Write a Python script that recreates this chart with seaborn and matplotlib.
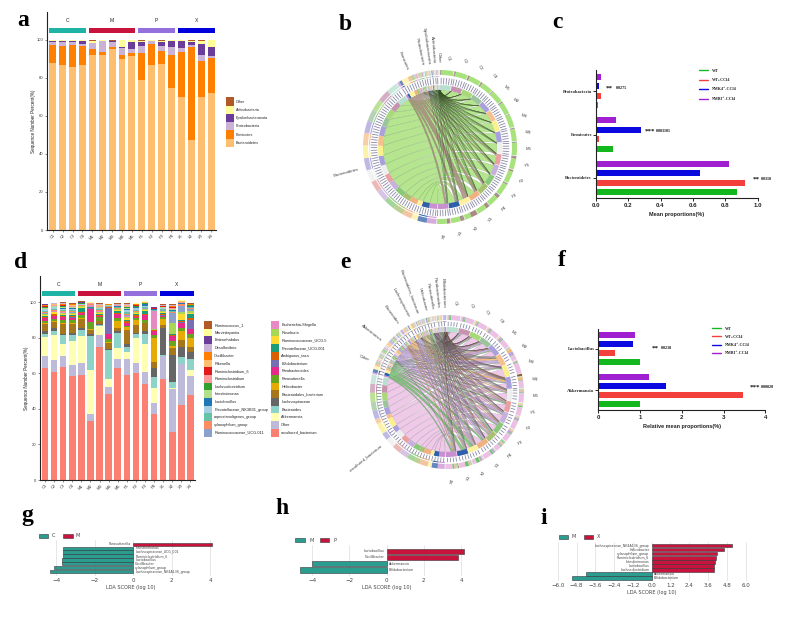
import numpy as np
import pandas as pd
import seaborn as sns
import matplotlib
matplotlib.use("Agg")
import matplotlib.pyplot as plt
from matplotlib.colors import to_rgba
from matplotlib.patches import Wedge, PathPatch, Patch, Rectangle
from matplotlib.path import Path
from matplotlib.lines import Line2D

sns.set_theme(style="ticks", rc={"patch.force_edgecolor": False, "patch.edgecolor": "none"})
plt.rcParams["font.family"] = ["Liberation Sans", "DejaVu Sans"]

W, H = 800, 621

samples = ["C1","C2","C3","C4","M1","M2","M3","M4","M5","P1","P2","P3","P4","X1","X2","X3","X4"]
groups = ["C","M","P","X"]
group_colors = ["#1fb3a5","#c8143c","#9370db","#0000dd"]

# ---- panel a ----
phylum_names = ["Bacteroidetes","Firmicutes","Proteobacteria","Epsilonbacteraeota","Actinobacteria","Other"]
phylum_colors = ["#fdbf6f","#ff7f00","#cab2d6","#6a3d9a","#ffff99","#b15928"]
bacteroidetes = [87.7,86.8,85.8,86.8,92.0,92.0,95.0,90.0,91.5,79.0,86.6,87.5,74.7,69.8,47.5,69.8,72.0]
firmicutes = [9.6,10.2,11.7,9.9,3.3,1.5,1.5,2.3,1.5,14.2,11.4,6.9,17.3,24.1,48.8,19.2,18.5]
proteobacteria = [1.7,1.8,1.5,1.2,2.9,5.8,2.5,3.7,2.4,3.5,1.6,2.3,4.1,1.9,1.2,3.0,1.2]
epsilon = [0.5,0.8,0.6,1.7,0.3,0.3,0.3,0.3,3.7,2.4,0.1,2.4,3.4,3.5,1.5,5.9,4.6]
actino = [0.3,0.2,0.2,0.2,1.0,0.2,0.4,3.5,0.7,0.6,0.2,0.6,0.3,0.5,0.7,1.6,3.5]
other_a = [0.2,0.2,0.2,0.2,0.5,0.2,0.3,0.2,0.2,0.3,0.1,0.3,0.2,0.2,0.3,0.5,0.2]

# ---- panel d ----
genus_names = ["uncultured_bacterium","Other","Akkermansia","Bacteroides","Lachnospiraceae",
    "Bacteroidales_bacterium","Helicobacter","Parasutterella","Parabacteroides","Bifidobacterium",
    "Ambiguous_taxa","Prevotellaceae_UCG-001","Ruminococcaceae_UCG-5","Roseburia","Escherichia-Shigella",
    "Ruminococcaceae_UCG-011","xylanophilum_group","coprostanoligenes_group","Prevotellaceae_NK3B31_group",
    "Lactobacillus","Intestinimonas","Lachnoclostridium","Ruminiclostridium","Ruminiclostridium_6",
    "Rikenella","Oscillibacter","Desulfovibrio","Enterorhabdus","Marvinbryantia","Ruminococcus_1"]
genus_colors = ["#fb8072","#bebada","#ffffb3","#8dd3c7","#666666","#a6761d","#e6ab02","#66a61e","#e7298a",
    "#7570b3","#d95f02","#1b9e77","#ffd92f","#a6d854","#e78ac3","#8da0cb","#fc8d62","#66c2a5","#a6cee3",
    "#1f78b4","#b2df8a","#33a02c","#fb9a99","#e31a1c","#fdbf6f","#ff7f00","#cab2d6","#6a3d9a","#ffff99","#b15928"]
g_unc = [63,61,63.5,58.5,59,33.4,74.6,48.6,63,59.3,60.2,54,37,56.8,27,42,48]
g_oth = [6.6,6.7,6.5,6.2,7,3.6,7.2,3.9,5,8.7,5.6,7,6.5,13.2,24,23.5,10.5]
g_akk = [11.1,13.9,6.7,13.3,15,25,5.1,4.3,6.5,4,14.2,15.7,8.1,0,0.6,0,3.5]
g_bac = [1.7,2.3,5.1,3.8,3.6,19.2,0.5,16.6,8.5,2.9,2,5.7,6.2,0.4,3.7,3.5,6]
g_lac = [1.5,1.5,0.5,1,1,0.8,0.5,0.6,1,1.5,1,1.2,5,15,15,6,4]
g_bro = [4.0,3.6,5.5,5.0,5.0,2.5,1.5,3.0,1.5,8.0,4.5,4.5,3.5,2.0,4.2,4.0,3.0]
g_hel = [.6,.5,.6,.5,.8,.3,.3,.5,4.0,1.5,2.5,.5,13.5,3.0,1.0,5.0,5.0]
g_psu = [1.2,1.3,1.5,1.5,1.2,4.0,2.0,2.0,1.5,1.0,1.0,1.5,1.8,1.2,2.5,1.5,2.0]
g_pab = [1.5,1.5,1.8,1.5,1.2,7.5,.6,2.5,2.5,1.2,.5,2.8,2.0,.8,3.0,3.0,3.0]
g_bif = [.2,.2,.2,.2,.2,.5,.2,15.0,.2,.2,.2,.2,.5,.5,.3,.5,5.0]
g_amb = [.6,.8,.6,.8,.7,.2,.6,.2,.5,1.0,1.0,.6,.2,.8,.5,.7,1.2]
g_u01 = [.5,.4,.5,.4,2.2,.2,.5,.1,1.0,1.0,.5,1.2,.2,.5,.3,.5,2.0]
g_uc5 = [.6,.6,.7,.7,.5,.2,.5,.1,.5,1.0,.6,.8,.2,.5,.2,3.0,1.0]
g_ros = [.4,.4,.5,.5,.3,.2,.6,.1,.3,.5,.5,.5,.2,.4,6.0,1.2,.8]
g_esc = [.2,.2,.2,.2,.2,1.0,.2,.1,.2,.3,.2,.2,10.0,.2,.3,.3,.2]
g_u11 = [.3,.3,.4,.4,.2,.1,.3,.1,.3,.5,.3,.3,.2,.3,5.5,3.5,.8]
g_xyl = [.4,.4,.6,.7,.3,.1,.4,.2,.3,.8,.5,.3,.2,.3,.5,.6,.6]
g_cop = [.5,.5,.5,.5,.2,.1,.5,.1,.3,1.0,.5,.4,.4,.5,.3,.3,.6]
g_nk3 = [1.4,1.0,.6,.8,.3,.1,.5,.1,.4,1.5,1.0,.4,.2,.3,.3,.2,.3]
g_lbc = [.2,.2,.2,.2,.1,.1,.2,.1,.2,.4,.3,1.2,.2,.1,.6,.1,.2]
g_int = [.4,.5,.5,.5,.2,.1,.4,.1,.2,.5,.4,.3,.2,.3,.3,.3,.4]
g_lcl = [.4,.4,.5,.4,.2,.1,.4,.1,.2,.5,.4,.2,.1,.3,.2,.2,.2]
g_rum = [.3,.3,.4,.3,.1,.1,.3,.1,.2,.4,.3,.2,.1,.2,.6,.2,.2]
g_ru6 = [.3,.2,.3,.3,.1,.1,.2,.1,.1,.4,.2,.2,.1,.2,.3,.2,.1]
g_rik = [.2,.2,.3,.2,.1,.1,.2,.1,.1,.2,.2,.1,.1,.2,.4,.2,.1]
g_osc = [.4,.3,.5,.4,.1,.1,.3,.1,.2,.4,.3,.2,.2,.2,.5,.2,.1]
g_des = [.2,.2,.2,.2,.1,.1,.2,.1,.2,.3,.2,.1,.1,.2,.2,.2,.2]
g_ent = [.1,.1,.1,.1,.1,.1,.1,.1,.1,.1,.1,.1,.1,.1,.1,.1,.1]
g_mar = [.2,.2,.2,.2,.2,.2,.2,.1,.2,.2,.2,.2,.2,.2,.3,.2,.2]
g_ru1 = [.2,.2,.3,.3,.3,.2,.3,.2,.3,.3,.3,.3,.3,.3,.6,.3,.3]

# ---- panels c, f ----
treat_names = ["WT","WT+CCl4","NMK4\u207a-CCl4","NMRI\u207a-CCl4"]
treat_colors = {"WT":"#12b81e","WT+CCl4":"#f4403c","NMK4\u207a-CCl4":"#0a0ae0","NMRI\u207a-CCl4":"#a01fd0"}
c_cats = ["Proteobacteria","Firmicutes","Bacteroidetes"]
c_wt = [0.017,0.105,0.87]
c_wtc = [0.035,0.022,0.92]
c_nk = [0.02,0.282,0.645]
c_nm = [0.03,0.125,0.82]
f_cats = ["Lactobacillus","Akkermansia"]
f_wt = [1.0,1.0]
f_wtc = [0.39,3.47]
f_nk = [0.83,1.62]
f_nm = [0.89,1.22]

# ---- panels g, h, i ----
g_taxa = ["Parasutterella","Intestinimonas","Lachnospiraceae_UCG_001","Ruminiclostridium_6","Lactobacillus",
          "Oscillibacter","xylanophilum_group","Lachnospiraceae_NK4A136_group"]
g_lda = [4.07,-3.67,-3.67,-3.67,-3.7,-3.7,-4.1,-4.33]
h_taxa = ["Lactobacillus","Oscillibacter","Akkermansia","Bifidobacterium"]
h_lda = [4.14,3.86,-4.0,-4.64]
i_taxa = ["Lachnospiraceae_NK4A136_group","Helicobacter","xylanophilum_group","Ruminiclostridium_6",
          "Intestinimonas","Lactobacillus","Lachnoclostridium","Akkermansia","Bifidobacterium"]
i_lda = [5.12,4.63,4.18,4.14,4.07,4.0,3.97,-4.2,-5.07]

sample_ring = ["#b8dfd0","#c693b0","#a8d878","#9cc49c","#a9a0dc","#f4c08c","#faf08c","#a8a0dc","#eeeeee",
               "#e8a0a0","#c8b0dc","#88c878","#a8c070","#f0b080","#fff0a0","#2f5fa8","#c890d0"]
b_chord_colors = ["#a8e27c","#a88a80","#7a5a90","#5a9a5a","#e0a0c0","#806040"]
e_chord_colors = ["#ebc0e4","#6cc26a","#c0a4e0","#f2b870","#b4a8d8","#e8e080","#8ed088","#e0a0c8","#a0d8a0","#806040"]
b_label_angles = [195,113,102,98,94,91]
e_label_angles = [218.7,158,142,126,117.6,110.5,104.5,100,96,92]

fig = plt.figure(figsize=(W/100, H/100), dpi=100, facecolor="white")


def axpx(l, t, r, b, **kw):
    return fig.add_axes([l/W, 1-b/H, (r-l)/W, (b-t)/H], **kw)


def stacked(ax, series, colors, ylim_top, x0, x1, width):
    bottom = np.zeros(len(samples))
    for vals, col in zip(series, colors):
        sns.barplot(x=samples, y=vals, bottom=bottom, color=col, saturation=1, width=width,
                    errorbar=None, order=samples, ax=ax, linewidth=0)
        bottom = bottom + np.array(vals)
    ax.set_xlim(x0, x1)
    ax.set_ylim(0, ylim_top)
    ax.set_yticks([0,20,40,60,80,100])
    ax.tick_params(axis="both", labelsize=3.0, length=1.5, width=0.4, pad=1, color="#333333")
    plt.setp(ax.get_xticklabels(), rotation=45, ha="center", color="#333333")
    plt.setp(ax.get_yticklabels(), color="#333333")
    for s in ["top","right"]:
        ax.spines[s].set_visible(False)
    for s in ["left","bottom"]:
        ax.spines[s].set_linewidth(0.8)
        ax.spines[s].set_color("#222222")
    ax.set_ylabel("Sequence Number Percent(%)", fontsize=3.35, labelpad=0.4, color="#222222")
    ax.set_xlabel("")
    spans = [(-0.35,3.35),(3.65,8.35),(8.65,12.35),(12.65,16.35)]
    for (a, b), g, c in zip(spans, groups, group_colors):
        ax.add_patch(Rectangle((a, 103.7), b-a, 2.7, color=c, lw=0, clip_on=False))
        ax.text((a+b)/2, 110, g, ha="center", va="center", fontsize=3.6, color="#222222")


# a
ax_a = axpx(47, 12, 216, 230)
stacked(ax_a, [bacteroidetes, firmicutes, proteobacteria, epsilon, actino, other_a], phylum_colors,
        114.7, -0.58, 16.5, 0.7)
fig.legend([Patch(color=c, lw=0) for c in phylum_colors[::-1]], phylum_names[::-1], loc="upper left",
           bbox_to_anchor=(226/W, 1-97.5/H), frameon=False, fontsize=2.7, borderpad=0, borderaxespad=0,
           handlelength=2.13, handleheight=2.99, labelspacing=0, handletextpad=0.55, labelcolor="#222222")

# d
ax_d = axpx(39.7, 275.7, 195, 480)
genus_series = [g_unc,g_oth,g_akk,g_bac,g_lac,g_bro,g_hel,g_psu,g_pab,g_bif,g_amb,g_u01,g_uc5,g_ros,g_esc,
                g_u11,g_xyl,g_cop,g_nk3,g_lbc,g_int,g_lcl,g_rum,g_ru6,g_rik,g_osc,g_des,g_ent,g_mar,g_ru1]
stacked(ax_d, genus_series, genus_colors, 115, -0.58, 16.5, 0.72)
fig.legend([Patch(color=c, lw=0) for c in genus_colors[::-1]], genus_names[::-1], loc="upper left", ncol=2,
           bbox_to_anchor=(204/W, 1-321/H), frameon=False, fontsize=2.8, borderpad=0, borderaxespad=0,
           handlelength=2.05, handleheight=2.67, labelspacing=0, handletextpad=0.6, columnspacing=0.7,
           labelcolor="#222222")


# chord diagrams
def ring(ax, a1, a2, r1, r2, color, alpha=1.0, z=2):
    ax.add_patch(Wedge((0,0), r2, min(a1,a2), max(a1,a2), width=r2-r1, fc=color, ec="none", alpha=alpha, zorder=z))


def arc(a1, a2, r):
    t = np.radians(np.linspace(a1, a2, 12))
    return np.c_[r*np.cos(t), r*np.sin(t)]


def chord(ax, s1, s2, t1, t2, r, shift, color, edge):
    p1, p2 = arc(s1, s2, r), arc(t1, t2, r)
    c1 = (p1[-1] + p2[0]) * 0.28 + np.array(shift)
    c2 = (p2[-1] + p1[0]) * 0.28 + np.array(shift)
    verts = list(p1) + [c1, p2[0]] + list(p2[1:]) + [c2, p1[0]]
    codes = [Path.MOVETO] + [Path.LINETO]*(len(p1)-1) + [Path.CURVE3, Path.CURVE3] + \
            [Path.LINETO]*(len(p2)-1) + [Path.CURVE3, Path.CURVE3]
    ax.add_patch(PathPatch(Path(verts, codes), fc=to_rgba(color, 0.85), ec=to_rgba(edge, 0.4), lw=0.2, zorder=1))


def chord_diagram(cx, cy, matrix, taxa, chord_colors, label_angles, radii, shift, edge):
    R = 108
    ax = axpx(cx-R, cy-R, cx+R, cy+R)
    ax.set_xlim(-R, R); ax.set_ylim(-R, R); ax.axis("off"); ax.patch.set_alpha(0)
    m = np.array(matrix, dtype=float).T   # samples x taxa
    ns, nt = m.shape
    gap = 0.5
    dpu = (360 - gap*(ns+nt)) / (2*m.sum())
    ro1, ro2, rl1, rl2, rt1, rt2, ri1, ri2 = radii
    ang = 90.0
    sseg = {}
    for i in range(ns):
        start = ang
        for j in range(nt-1, -1, -1):
            e = ang - m[i, j]*dpu
            sseg[(i, j)] = (ang, e)
            ring(ax, ang, e, ro1, ro2, chord_colors[j], z=2)
            ang = e
        ring(ax, start, ang, ri1, ri2, sample_ring[i], z=3)
        for a in np.arange(start-1, ang, -22*dpu):
            t = np.radians(a)
            ax.plot([rt1*np.cos(t), rt2*np.cos(t)], [rt1*np.sin(t), rt2*np.sin(t)], color="#7f7f9f", lw=0.55)
        mid = np.radians((start+ang)/2)
        deg = (start+ang)/2
        ax.text(89*np.cos(mid), 89*np.sin(mid), samples[i], fontsize=3.2, ha="center", va="center",
                rotation=-deg*0.9, color="#444444")
        ang -= gap
    tseg = {}
    for j in range(nt):
        for i in range(ns-1, -1, -1):
            e = ang - m[i, j]*dpu
            tseg[(i, j)] = (ang, e)
            ring(ax, ang, e, ro1, ro2, sample_ring[i], alpha=0.75, z=2)
            ring(ax, ang, e, rl1, rl2, sample_ring[i], z=2)
            ring(ax, ang, e, ri1, ri2, sample_ring[i], z=3)
            ang = e
        ang -= gap
    for j in range(nt):
        for i in range(ns):
            if m[i, j] <= 0:
                continue
            s1, s2 = sseg[(i, j)]
            t1, t2 = tseg[(i, j)]
            chord(ax, s1, s2, t1, t2, ri1, shift, chord_colors[j], edge)
    # ticks on the taxon side
    for j in range(nt):
        keys = [tseg[(i, j)] for i in range(ns)]
        top = max(k[0] for k in keys); bot = min(k[1] for k in keys)
        for a in np.arange(top-1, bot, -22*dpu):
            t = np.radians(a)
            ax.plot([rt1*np.cos(t), rt2*np.cos(t)], [rt1*np.sin(t), rt2*np.sin(t)], color="#7f7f9f", lw=0.55)
    for name, a in zip(taxa, label_angles):
        t = np.radians(a)
        rr = 84
        rot = a-180 if a > 90 else a
        ax.text(rr*np.cos(t), rr*np.sin(t), name, fontsize=3.2, rotation=rot, rotation_mode="anchor",
                ha="right", va="center", color="#444444")


phylum_matrix = [bacteroidetes, firmicutes, proteobacteria, epsilon, actino, other_a]
chord_diagram(440, 147, phylum_matrix, phylum_names, b_chord_colors, b_label_angles,
              (72,77,70,71,63,69,57,62), (0,14), "#2f4f1f")
chord_diagram(447, 392, genus_series[:10], genus_names[:10], e_chord_colors, e_label_angles,
              (72,77,70,71,66,70,60,65), (-4,6), "#4a3a4a")


def hbar(ax, cats, wt, wtc, nk, nm, width, gap, ylim, xlim, xticks, xlabel):
    rows = []
    for cat, a, b, c, d in zip(cats, wt, wtc, nk, nm):
        for t, v in zip(treat_names, (a, b, c, d)):
            rows.append((cat, t, v))
    df = pd.DataFrame(rows, columns=["cat","treat","val"])
    sns.barplot(df, y="cat", x="val", hue="treat", order=cats, hue_order=treat_names[::-1], palette=treat_colors,
                width=width, gap=gap, saturation=1, errorbar=None, legend=False, ax=ax, orient="h", linewidth=0)
    ax.set_ylim(*ylim); ax.set_xlim(*xlim); ax.set_xticks(xticks)
    ax.set_ylabel("")
    ax.set_xlabel(xlabel, fontsize=4.0, fontweight="bold", labelpad=3, color="#222222")
    for s in ["top","right"]:
        ax.spines[s].set_visible(False)
    for s in ["left","bottom"]:
        ax.spines[s].set_linewidth(0.8); ax.spines[s].set_color("#222222")
    ax.tick_params(axis="x", labelsize=4.4, length=2, width=0.7, pad=1.5)
    ax.tick_params(axis="y", labelsize=3.3, length=2, width=0.7, pad=0.8)
    for t in ax.get_xticklabels():
        t.set_fontweight("bold"); t.set_color("#222222")
    for t in ax.get_yticklabels():
        t.set_fontweight("bold"); t.set_family("Liberation Serif"); t.set_color("#222222")


ax_c = axpx(595.7, 70, 757.7, 198)
hbar(ax_c, c_cats, c_wt, c_wtc, c_nk, c_nm, 0.874, 0.37, (2.46,-0.483), (0,1), [0,0.2,0.4,0.6,0.8,1.0],
     "Mean proportions(%)")
ax_f = axpx(598.3, 329.3, 765.3, 410)
hbar(ax_f, f_cats, f_wt, f_wtc, f_nk, f_nm, 0.854, 0.33, (1.468,-0.468), (0,4), [0,1,2,3,4],
     "Relative mean proportions(%)")

serif_bold = {"family":["Liberation Serif","DejaVu Serif","DejaVu Sans"],"weight":"bold","size":3.0}
for ax, xpos, ypos, step in [(ax_c, 699, 68.5, 1.32), (ax_f, 712, 326.5, 1.04)]:
    handles = [Line2D([0],[0], color=treat_colors[t], lw=1) for t in treat_names]
    fig.legend(handles, treat_names, loc="upper left", bbox_to_anchor=(xpos/W, 1-ypos/H), frameon=False,
               prop=serif_bold, borderpad=0, borderaxespad=0, handlelength=2.2, labelspacing=step, handletextpad=1.0,
               labelcolor="#222222")


def lda(box, xlim, ylim, taxa, vals, names, colors, ticks, fmt, tx_size, bar_w):
    ax = axpx(*box)
    grp = [names[1] if v > 0 else names[0] for v in vals]
    df = pd.DataFrame({"taxon":taxa, "lda":vals, "grp":grp})
    ax.set_axisbelow(True)
    sns.barplot(df, y="taxon", x="lda", hue="grp", hue_order=names, palette=dict(zip(names, colors)), dodge=False,
                width=bar_w, saturation=1, errorbar=None, legend=False, edgecolor="#33333a", linewidth=0.4, ax=ax,
                orient="h", order=taxa)
    ax.set_xlim(*xlim); ax.set_ylim(*ylim)
    ax.set_xticks(ticks)
    ax.set_xticklabels([fmt(t) for t in ticks], family="DejaVu Sans", fontsize=4, color="#444444")
    ax.set_yticks([]); ax.set_ylabel("")
    ax.set_xlabel("LDA SCORE (log 10)", family="DejaVu Sans", fontsize=3.6, labelpad=1.5, color="#444444")
    ax.grid(axis="x", color="#dddddd", lw=0.5)
    ax.tick_params(axis="x", length=0, pad=1.5)
    sns.despine(ax=ax, left=True, bottom=True)
    for i, (n, v) in enumerate(zip(taxa, vals)):
        off = (xlim[1]-xlim[0])*0.012
        ax.text(-off if v > 0 else off, i, n, ha="right" if v > 0 else "left", va="center",
                fontsize=tx_size, family="DejaVu Sans", color="#444444")
    return ax


fmt_int = lambda t: f"{t:d}".replace("-", "\u2212")
fmt_f = lambda t: f"{t:.1f}".replace("-", "\u2212")
teal, crim = "#2a9d8f", "#c8143c"
lda((44.8, 540, 216, 576), (-4.6,4.3), (8.13,-1.1), g_taxa, g_lda, ["C","M"], [teal,crim], [-4,-2,0,2,4], fmt_int, 2.3, 0.85)
lda((299, 545, 474, 576), (-4.7, 4.7), ((576-551.3)/6.2, (545-551.3)/6.2), h_taxa, h_lda, ["M","P"], [teal,crim], [-4,-2,0,2,4], fmt_int, 2.3, 0.85)
lda((554.7, 541.7, 748.7, 580.7), (-6.2,6.2), ((580.7-545.7)/4.04, (541.7-545.7)/4.04), i_taxa, i_lda, ["M","X"], [teal,crim],
    [-6,-4.8,-3.6,-2.4,-1.2,0,1.2,2.4,3.6,4.8,6.0], fmt_f, 2.3, 0.85)

# overlay in pixel coordinates
ov = fig.add_axes([0,0,1,1], zorder=20)
ov.set_xlim(0, W); ov.set_ylim(H, 0); ov.axis("off"); ov.patch.set_alpha(0)
for s, x, y in [("a",23,21),("b",345.7,24),("c",557,22),("d",21,262),("e",345,262),("f",562,260),
                ("g",27,515),("h",282,508),("i",544,519)]:
    ov.text(x, y, s, family="Liberation Serif", weight="bold", fontsize=17, ha="center", va="center", color="black")


def star(x, y, s, xs, v):
    ov.text(x, y, s, family="Liberation Serif", weight="bold", fontsize=5, ha="left", va="center", color="#111111")
    ov.text(xs, y, v, family="Liberation Serif", weight="bold", fontsize=3, ha="left", va="center", color="#111111")


star(606, 88, "**", 616, "0.0275")
star(645, 131, "***", 656, "0.003101")
star(753, 179, "**", 761, "0.0318")
star(652, 348, "**", 661, "0.0218")
star(750, 387, "***", 761, "0.00020")


def lda_leg(items):
    for x0, x1, tx, y, c, s in items:
        ov.add_patch(Rectangle((x0, y-2), x1-x0, 4, fc=c, ec="#33333a", lw=0.4))
        ov.text(tx, y, s, family="DejaVu Sans", fontsize=3.6, ha="left", va="center", color="#444444")


lda_leg([(39,48,52,535.7,teal,"C"),(63,73,76,535.7,crim,"M"),
         (295,305,309,540,teal,"M"),(320,329,333,540,crim,"P"),
         (559,568,572,536.5,teal,"M"),(584,593,597,536.5,crim,"X")])

fig.savefig("out.png", dpi=100, facecolor="white")
